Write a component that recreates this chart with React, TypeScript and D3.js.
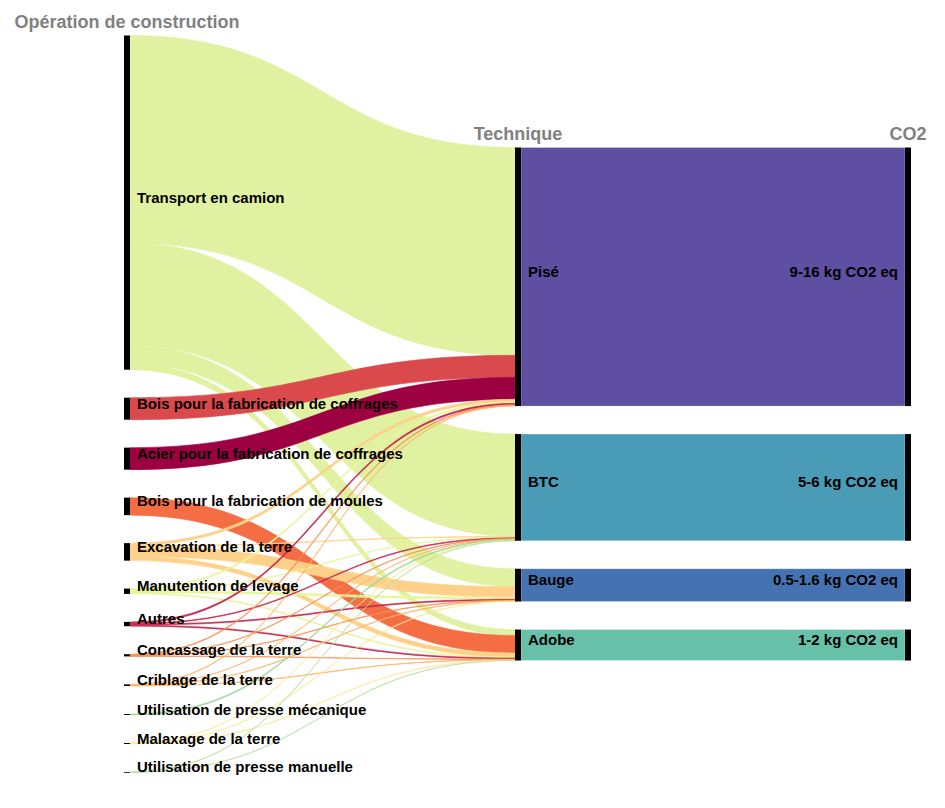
import React from "react";
import * as d3 from "d3";

const operations = [
  "Transport en camion",
  "Bois pour la fabrication de coffrages",
  "Acier pour la fabrication de coffrages",
  "Bois pour la fabrication de moules",
  "Excavation de la terre",
  "Manutention de levage",
  "Autres",
  "Concassage de la terre",
  "Criblage de la terre",
  "Utilisation de presse mécanique",
  "Malaxage de la terre",
  "Utilisation de presse manuelle",
];
const operationColors = [
  "#e0f2a1", "#da4a4c", "#9e0142", "#f46d43", "#fed18a", "#e9f59e",
  "#c52a4e", "#f88e53", "#fdb466", "#9fd79b", "#fee88f", "#b5e0a2",
];
const techniques = ["Pisé", "BTC", "Bauge", "Adobe"];
const techniqueColors = ["#5e4fa2", "#4a9bb5", "#4573b2", "#67c0a8"];
const co2Labels = ["9-16 kg CO2 eq", "5-6 kg CO2 eq", "0.5-1.6 kg CO2 eq", "1-2 kg CO2 eq"];

// flows from each operation to each technique (same order as operations)
const flowPise = [208, 22, 22, 0, 2.5, 1.5, 1.5, 0.8, 0.5, 0, 0, 0];
const flowBTC = [102.5, 0, 0, 0, 0.5, 0.8, 0.8, 0.4, 0.3, 1, 0.2, 0.3];
const flowBauge = [18, 0, 0, 0, 10.5, 2, 1, 0.5, 0.4, 0, 0.4, 0];
const flowAdobe = [6, 0, 0, 17.5, 4, 1, 1, 0.5, 0.4, 0, 0.4, 0.2];
const flows = [flowPise, flowBTC, flowBauge, flowAdobe];

const titles = ["Opération de construction", "Technique", "CO2"];

const W = 945;
const H = 808;
const xLeft = 124;
const xMid = 515;
const xRight = 905;
const barW = 6;
const gap = 28;
const centerY = 404;
const leftSpan = 737;
const FONT = "'Liberation Sans', Arial, Helvetica, sans-serif";

export default function App() {
  const opTotals = operations.map((_, i) => d3.sum(flows, (f) => f[i]));
  const techTotals = flows.map((f) => d3.sum(f));
  const grand = d3.sum(opTotals);
  const k = d3
    .scaleLinear()
    .domain([0, grand])
    .range([0, leftSpan - gap * (operations.length - 1)]);

  const layout = (totals: number[]) => {
    const h = k(d3.sum(totals)) + gap * (totals.length - 1);
    let y = centerY - h / 2;
    return totals.map((t) => {
      const y0 = y;
      const y1 = y + k(t);
      y = y1 + gap;
      return { y0, y1 };
    });
  };
  const opNodes = layout(opTotals);
  const techNodes = layout(techTotals);

  const opCursor = opNodes.map((n) => n.y0);
  const techCursor = techNodes.map((n) => n.y0);
  type L = { s: number; t: number; sy0: number; sy1: number; ty0: number; ty1: number };
  const links: L[] = [];
  operations.forEach((_, i) => {
    techniques.forEach((__, j) => {
      const v = flows[j][i];
      if (v > 0) {
        const sy0 = opCursor[i];
        opCursor[i] += k(v);
        links.push({ s: i, t: j, sy0, sy1: opCursor[i], ty0: 0, ty1: 0 });
      }
    });
  });
  techniques.forEach((_, j) => {
    links
      .filter((l) => l.t === j)
      .sort((a, b) => a.s - b.s)
      .forEach((l) => {
        l.ty0 = techCursor[j];
        techCursor[j] += k(flows[j][l.s]);
        l.ty1 = techCursor[j];
      });
  });

  const x0 = xLeft + barW;
  const x1 = xMid;
  const xm = (x0 + x1) / 2;
  const ribbon = (l: L) => {
    const p = d3.path();
    p.moveTo(x0, l.sy0);
    p.bezierCurveTo(xm, l.sy0, xm, l.ty0, x1, l.ty0);
    p.lineTo(x1, l.ty1);
    p.bezierCurveTo(xm, l.ty1, xm, l.sy1, x0, l.sy1);
    p.closePath();
    return p.toString();
  };

  return (
    <svg
      width={W}
      height={H}
      style={{ position: "absolute", left: 0, top: 0, background: "#fff" }}
      fontFamily={FONT}
    >
      <g>
        {links.map((l, i) => (
          <path
            key={i}
            d={ribbon(l)}
            fill={operationColors[l.s]}
            stroke={operationColors[l.s]}
            strokeWidth={0.6}
          />
        ))}
      </g>
      <g>
        {techNodes.map((n, j) => (
          <rect
            key={j}
            x={xMid + barW}
            y={n.y0}
            width={xRight - xMid - barW}
            height={n.y1 - n.y0}
            fill={techniqueColors[j]}
            stroke="#ffffff"
            strokeOpacity={0.35}
            strokeWidth={0.8}
          />
        ))}
      </g>
      <g fill="#000">
        {opNodes.map((n, i) => (
          <rect key={i} x={xLeft} y={n.y0} width={barW} height={Math.max(0.8, n.y1 - n.y0)} />
        ))}
        {techNodes.map((n, j) => (
          <rect key={"m" + j} x={xMid} y={n.y0} width={barW} height={n.y1 - n.y0} />
        ))}
        {techNodes.map((n, j) => (
          <rect key={"r" + j} x={xRight} y={n.y0} width={barW} height={n.y1 - n.y0} />
        ))}
      </g>
      <g fontSize={15} fontWeight="bold" fill="#000">
        {opNodes.map((n, i) => (
          <text key={i} x={xLeft + barW + 7} y={(n.y0 + n.y1) / 2}>
            {operations[i]}
          </text>
        ))}
        {techNodes.map((n, j) => (
          <text key={"t" + j} x={xMid + barW + 7} y={(n.y0 + n.y1) / 2}>
            {techniques[j]}
          </text>
        ))}
        {techNodes.map((n, j) => (
          <text key={"c" + j} x={xRight - 7} y={(n.y0 + n.y1) / 2} textAnchor="end">
            {co2Labels[j]}
          </text>
        ))}
      </g>
      <g fontSize={18} fontWeight="bold" fill="#808080" textAnchor="middle">
        <text x={xLeft + barW / 2} y={opNodes[0].y0 - 8}>{titles[0]}</text>
        <text x={xMid + barW / 2} y={techNodes[0].y0 - 8}>{titles[1]}</text>
        <text x={xRight + barW / 2} y={techNodes[0].y0 - 8}>{titles[2]}</text>
      </g>
    </svg>
  );
}
